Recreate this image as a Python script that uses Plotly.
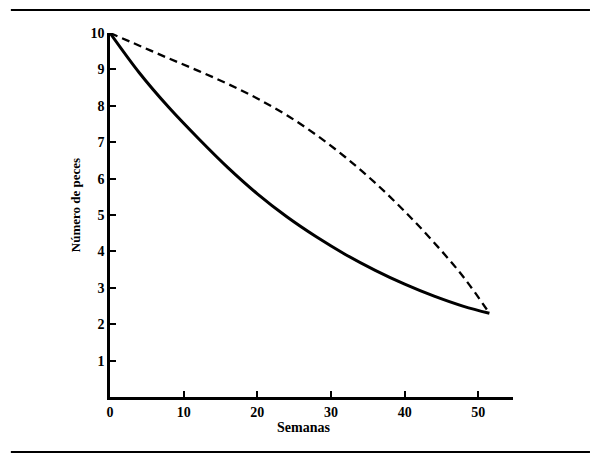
import plotly.graph_objects as go

semanas = [0, 4, 8, 12, 16, 20, 24, 28, 32, 36, 40, 44, 48, 51.5]
solida = [10.0, 8.9, 7.95, 7.1, 6.3, 5.58, 4.95, 4.40, 3.91, 3.48, 3.10, 2.77, 2.49, 2.30]
discontinua = [10.0, 9.65, 9.3, 8.96, 8.6, 8.2, 7.74, 7.2, 6.58, 5.88, 5.1, 4.24, 3.29, 2.3]

x_ticks = [0, 10, 20, 30, 40, 50]
y_ticks = [1, 2, 3, 4, 5, 6, 7, 8, 9, 10]

FONT = "Liberation Serif"

fig = go.Figure()
fig.add_trace(go.Scatter(x=semanas, y=discontinua, mode="lines", line_shape="spline",
                         line=dict(color="black", width=2.3, dash="8px,5px"), showlegend=False))
fig.add_trace(go.Scatter(x=semanas, y=solida, mode="lines", line_shape="spline",
                         line=dict(color="black", width=3), showlegend=False))

tickfont = dict(family=FONT, size=14, color="black", weight="bold")

fig.update_layout(
    width=600, height=461,
    margin=dict(l=102, r=95, t=25, b=72),
    paper_bgcolor="white", plot_bgcolor="white",
    font=dict(family=FONT, size=14, color="black"),
    xaxis=dict(range=[0, 54.7], tickvals=x_ticks, ticktext=[str(v) for v in x_ticks],
               showgrid=False, zeroline=False, showline=True, linecolor="black", linewidth=2.5,
               ticks="inside", ticklen=6, tickwidth=1.5, tickcolor="black", tickfont=tickfont),
    yaxis=dict(range=[0, 10], tickvals=y_ticks, ticktext=[str(v) for v in y_ticks],
               showgrid=False, zeroline=False, showline=True, linecolor="black", linewidth=2.5,
               ticks="inside", ticklen=6, tickwidth=1.5, tickcolor="black", tickfont=tickfont),
    shapes=[
        dict(type="line", xref="paper", yref="paper", x0=-0.246, x1=1.191, y0=1.063, y1=1.063,
             line=dict(color="black", width=2)),
        dict(type="line", xref="paper", yref="paper", x0=-0.246, x1=1.191, y0=-0.151, y1=-0.151,
             line=dict(color="black", width=2)),
    ],
    annotations=[
        dict(text="<b>Semanas</b>", xref="paper", yref="paper", x=0.479, y=-0.085,
             showarrow=False, xanchor="center", yanchor="middle", font=dict(family=FONT, size=14)),
        dict(text="<b>Número de peces</b>", xref="paper", yref="paper", x=(75 - 110) / 403, y=0.527,
             textangle=-90, showarrow=False, xanchor="center", yanchor="middle",
             font=dict(family=FONT, size=13)),
    ],
)

fig.write_html("out.html")
